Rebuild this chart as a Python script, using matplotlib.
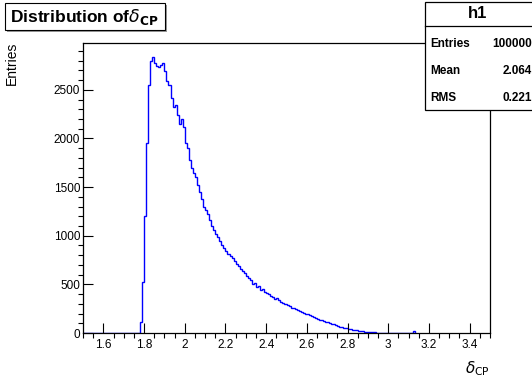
import numpy as np
import matplotlib.pyplot as plt
from matplotlib.patches import Rectangle
from matplotlib.ticker import MultipleLocator

plt.rcParams['font.family'] = ['Liberation Sans', 'DejaVu Sans']

# histogram h1: bins of 0.01 starting at 1.5
bin_start = 1.5
bin_width = 0.01
counts = [0] * 28 + [
    110, 520, 1200, 1950, 2550, 2800, 2840, 2780, 2750, 2740,
    2760, 2780, 2690, 2590, 2550, 2420, 2320, 2340, 2240, 2150,
    2200, 2120, 1950, 1900, 1780, 1700, 1650, 1600, 1520, 1450,
    1380, 1300, 1260, 1220, 1160, 1100, 1060, 1020, 990, 950,
    910, 870, 840, 810, 790, 770, 740, 710, 690, 660,
    640, 620, 590, 570, 540, 500, 510, 470, 480, 440,
    450, 420, 410, 400, 385, 370, 345, 355, 335, 315,
    305, 295, 285, 275, 262, 252, 247, 237, 222, 212,
    207, 197, 192, 182, 177, 163, 158, 148, 138, 133,
    123, 113, 108, 98, 93, 88, 78, 73, 64, 59,
    54, 49, 44, 39, 34, 30, 27, 24, 20, 18,
    15, 12, 10, 9, 8, 6, 5, 4, 4, 3,
    2, 2, 1, 1, 0, 1, 0, 0, 1, 0,
    0, 0, 0, 0, 25,
]

stats_names = ['Entries', 'Mean', 'RMS']
stats_values = ['100000', '2.064', '0.221']

edges = bin_start + bin_width * np.arange(len(counts) + 1)

W, H = 532, 382
fig = plt.figure(figsize=(W / 100, H / 100), dpi=100)

def px(x0, y0, x1, y1):
    return [x0 / W, 1 - y1 / H, (x1 - x0) / W, (y1 - y0) / H]

ax = fig.add_axes(px(83, 43, 490, 333))
ax.stairs(counts, edges, color='#0000ff', lw=1)
ax.set_xlim(1.5, 3.5)
ax.set_ylim(0, 1.05 * max(counts))

ax.xaxis.set_major_locator(MultipleLocator(0.2))
ax.xaxis.set_minor_locator(MultipleLocator(0.05))
ax.yaxis.set_major_locator(MultipleLocator(500))
ax.yaxis.set_minor_locator(MultipleLocator(100))
ax.xaxis.set_major_formatter(plt.FuncFormatter(lambda v, p: f'{v:g}'))
ax.tick_params(direction='in', labelsize=8.5, width=0.8, color='black')
ax.tick_params(which='major', length=7)
ax.tick_params(which='minor', length=3.5, width=0.8)
ax.tick_params(axis='x', pad=4)
ax.tick_params(axis='y', pad=2)
for s in ax.spines.values():
    s.set_linewidth(0.9)

fig.text(12 / W, 1 - 42 / H, 'Entries', rotation=90, ha='center', va='top', fontsize=10)
fig.text(490 / W, 1 - 378 / H, r'$\delta_{\mathrm{CP}}$', ha='right', va='bottom', fontsize=11)

# title box with shadow
fig.patches.append(Rectangle((7 / W, 1 - 32 / H), 160 / W, 27 / H, transform=fig.transFigure,
                             facecolor='#999999', edgecolor='none'))
fig.patches.append(Rectangle((5 / W, 1 - 30 / H), 160 / W, 27 / H, transform=fig.transFigure,
                             facecolor='white', edgecolor='black', lw=0.8))
fig.text(10 / W, 1 - 17 / H, r'Distribution of$\delta_{\mathbf{CP}}$', ha='left', va='center',
         fontsize=12.5, fontweight='bold')

# stats box
fig.patches.append(Rectangle((425 / W, 1 - 110 / H), 110 / W, 108 / H, transform=fig.transFigure,
                             facecolor='white', edgecolor='black', lw=0.9))
fig.lines.append(plt.Line2D([425 / W, 1], [1 - 26 / H] * 2, transform=fig.transFigure,
                            color='black', lw=0.9))
fig.text(478 / W, 1 - 14 / H, 'h1', ha='center', va='center', fontsize=12, fontweight='bold')
for i, (n, v) in enumerate(zip(stats_names, stats_values)):
    y = 1 - (44 + 27 * i) / H
    fig.text(430 / W, y, n, ha='left', va='center', fontsize=8.5, fontweight='bold')
    fig.text(532 / W, y, v, ha='right', va='center', fontsize=8.5, fontweight='bold')

fig.savefig('out.png', dpi=100)
